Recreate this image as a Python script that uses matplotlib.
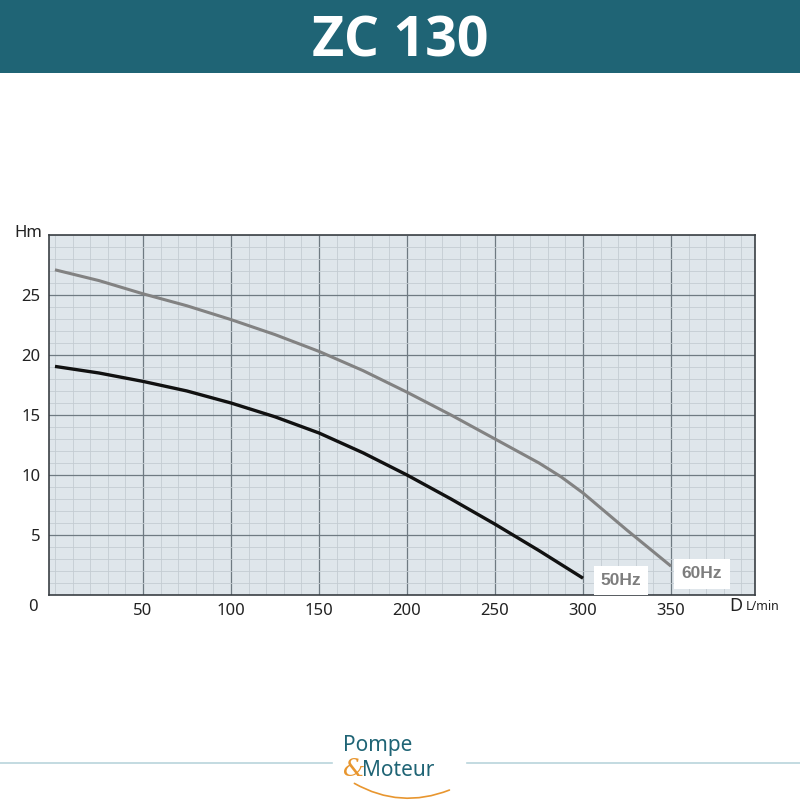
import matplotlib.pyplot as plt
from matplotlib.ticker import MultipleLocator
from matplotlib.patches import Rectangle, FancyArrowPatch

# flow (L/min) and head (m)
flow_60 = [0, 25, 50, 75, 100, 125, 150, 175, 200, 225, 250, 275, 287.5, 300, 325, 350]
head_60 = [27.1, 26.2, 25.1, 24.1, 22.95, 21.7, 20.3, 18.7, 16.9, 15.0, 13.0, 11.0, 9.85, 8.5, 5.4, 2.4]

flow_50 = [0, 25, 50, 75, 100, 125, 150, 175, 200, 225, 250, 275, 300]
head_50 = [19.05, 18.5, 17.8, 17.0, 16.0, 14.85, 13.5, 11.85, 10.0, 8.0, 5.9, 3.7, 1.4]

x_ticks = [50, 100, 150, 200, 250, 300, 350]
y_ticks = [5, 10, 15, 20, 25]

TEAL = "#1f6475"
ORANGE = "#e8962f"

fig = plt.figure(figsize=(8, 8), dpi=100)
fig.patch.set_facecolor("white")

# header band
fig.patches.append(Rectangle((0, 1 - 73 / 800), 1, 73 / 800, transform=fig.transFigure,
                             facecolor=TEAL, edgecolor="none"))
fig.text(0.5, 1 - 42 / 800, "ZC 130", color="white", fontsize=40, fontweight="bold",
         family="Open Sans", ha="center", va="center")

ax = fig.add_axes([49 / 800, 205 / 800, 706 / 800, 360 / 800])
ax.set_facecolor("#dfe6eb")
ax.set_xlim(-3.4, 397.7)
ax.set_ylim(0, 30)

ax.xaxis.set_major_locator(MultipleLocator(50))
ax.xaxis.set_minor_locator(MultipleLocator(10))
ax.yaxis.set_major_locator(MultipleLocator(5))
ax.yaxis.set_minor_locator(MultipleLocator(1))
ax.grid(which="major", color="#6f7a82", linewidth=0.9)
ax.grid(which="minor", color="#c4ccd2", linewidth=0.6)
ax.set_axisbelow(True)

ax.set_xticks(x_ticks)
ax.set_yticks(y_ticks)
ax.tick_params(which="both", length=0)
ax.tick_params(labelsize=12, pad=6, colors="#222222")
for lab in ax.get_xticklabels() + ax.get_yticklabels():
    lab.set_family("Noto Sans")

for s in ax.spines.values():
    s.set_color("#3a3f44")
    s.set_linewidth(1.2)

ax.plot(flow_60, head_60, color="#828282", linewidth=2.2, solid_capstyle="butt")
ax.plot(flow_50, head_50, color="#111111", linewidth=2.4, solid_capstyle="butt")

# curve labels
ax.text(310, 1.2, "50Hz", color="#7d7d7d", fontsize=12.5, fontweight="bold",
        family="Liberation Sans", ha="left", va="center",
        bbox=dict(facecolor="white", edgecolor="none", pad=5))
ax.text(356, 1.75, "60Hz", color="#7d7d7d", fontsize=12.5, fontweight="bold",
        family="Liberation Sans", ha="left", va="center",
        bbox=dict(facecolor="white", edgecolor="none", pad=5.5))

# axis titles and origin
fig.text(14 / 800, 1 - 233 / 800, "Hm", fontsize=12, family="Noto Sans", color="#222222",
         ha="left", va="center")
fig.text(33 / 800, 1 - 607 / 800, "0", fontsize=12, family="Noto Sans", color="#222222",
         ha="center", va="center")
fig.text(729 / 800, 1 - 606 / 800, "D", fontsize=13, family="Noto Sans", color="#222222",
         ha="left", va="center")
fig.text(746 / 800, 1 - 607 / 800, "L/min", fontsize=9, family="Noto Sans", color="#222222",
         ha="left", va="center")

# footer logo
fig.add_artist(plt.Line2D([0, 332 / 800], [1 - 763 / 800] * 2, transform=fig.transFigure,
                          color="#b9d4dc", linewidth=1.2))
fig.add_artist(plt.Line2D([467 / 800, 1], [1 - 763 / 800] * 2, transform=fig.transFigure,
                          color="#b9d4dc", linewidth=1.2))
fig.text(378 / 800, 1 - 745 / 800, "Pompe", fontsize=15, family="Noto Sans",
         color=TEAL, ha="center", va="center")
fig.text(353 / 800, 1 - 770 / 800, "&", fontsize=18, family="DejaVu Serif",
         style="italic", color=ORANGE, ha="center", va="center")
fig.text(362 / 800, 1 - 771 / 800, "Moteur", fontsize=15, family="Noto Sans",
         color=TEAL, ha="left", va="center")
fig.add_artist(FancyArrowPatch((352 / 800, 1 - 782 / 800), (452 / 800, 1 - 789 / 800),
                               connectionstyle="arc3,rad=0.25", arrowstyle="-",
                               color=ORANGE, linewidth=1.2, transform=fig.transFigure))

fig.savefig("out.png", dpi=100)
